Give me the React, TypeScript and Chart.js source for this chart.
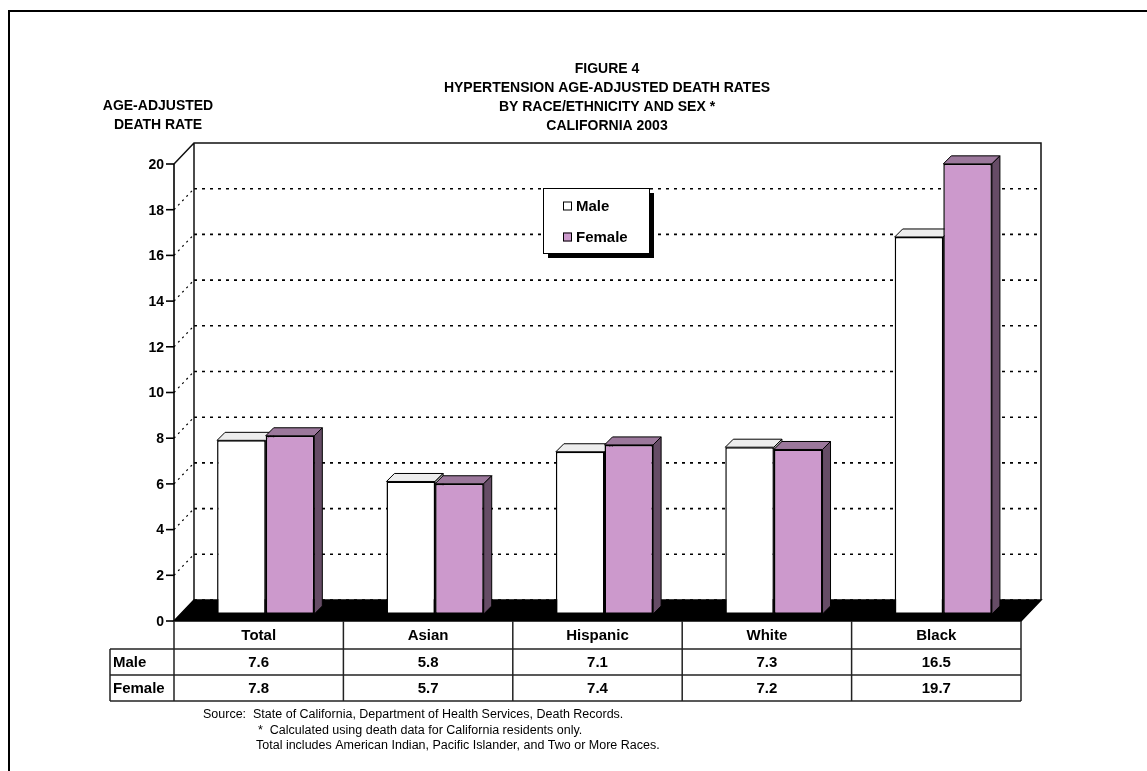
import { useEffect, useRef } from "react";
import { Chart, registerables } from "chart.js";

Chart.register(...registerables);

// ---- data ----
const categories = ["Total", "Asian", "Hispanic", "White", "Black"];
const maleRates = [7.6, 5.8, 7.1, 7.3, 16.5];
const femaleRates = [7.8, 5.7, 7.4, 7.2, 19.7];
const seriesNames = ["Male", "Female"];
const yTicks = [0, 2, 4, 6, 8, 10, 12, 14, 16, 18, 20];
const titleLines = [
  "FIGURE 4",
  "HYPERTENSION AGE-ADJUSTED DEATH RATES",
  "BY RACE/ETHNICITY AND SEX *",
  "CALIFORNIA 2003",
];
const yTitleLines = ["AGE-ADJUSTED", "DEATH RATE"];
const footnotes = [
  "Source:  State of California, Department of Health Services, Death Records.",
  "*  Calculated using death data for California residents only.",
  "Total includes American Indian, Pacific Islander, and Two or More Races.",
];

// ---- layout & style ----
const W = 1147;
const H = 771;
const PLOT = { left: 181, right: 1028, top: 157, bottom: 614 }; // plane the bars stand in
const FRONT = { dx: -7, dy: 7 }; // front plane relative to bar plane
const WALL_DEPTH = { dx: 20, dy: 21 }; // front plane -> back wall
const BAR_DEPTH = 8;
const FACE = [
  { front: "#FFFFFF", top: "#EDEDED", side: "#BDBDBD" },
  { front: "#CC99CC", top: "#9C789C", side: "#664C66" },
];
const FONT = '"Liberation Sans", Arial, Helvetica, sans-serif';
const f = (size: number, bold = true) => `${bold ? "bold " : ""}${size}px ${FONT}`;

function line(ctx: CanvasRenderingContext2D, x1: number, y1: number, x2: number, y2: number) {
  ctx.beginPath();
  ctx.moveTo(x1, y1);
  ctx.lineTo(x2, y2);
  ctx.stroke();
}

function poly(ctx: CanvasRenderingContext2D, pts: number[][], fill: string) {
  ctx.beginPath();
  ctx.moveTo(pts[0][0], pts[0][1]);
  for (let i = 1; i < pts.length; i++) ctx.lineTo(pts[i][0], pts[i][1]);
  ctx.closePath();
  ctx.fillStyle = fill;
  ctx.fill();
  ctx.stroke();
}

const scene3d = {
  id: "scene3d",
  beforeDraw(chart: any) {
    const { ctx } = chart;
    ctx.save();
    ctx.fillStyle = "#FFFFFF";
    ctx.fillRect(0, 0, chart.width, chart.height);
    ctx.restore();
  },
  beforeDatasetsDraw(chart: any) {
    const { ctx } = chart;
    const xs = chart.scales.x;
    const ys = chart.scales.y;
    const top = yTicks[yTicks.length - 1];
    const fl = xs.left + FRONT.dx;
    const fr = xs.right + FRONT.dx;
    const fy = (v: number) => ys.getPixelForValue(v) + FRONT.dy;
    const bl = fl + WALL_DEPTH.dx;
    const br = fr + WALL_DEPTH.dx;
    const by = (v: number) => fy(v) - WALL_DEPTH.dy;

    ctx.save();
    // back wall dotted grid
    ctx.strokeStyle = "#000";
    ctx.lineWidth = 1.6;
    ctx.setLineDash([3, 5]);
    yTicks.forEach((v) => {
      if (v === top) return;
      line(ctx, bl, by(v), br, by(v));
    });
    // side wall dotted diagonals
    ctx.setLineDash([2, 4]);
    ctx.lineWidth = 1.2;
    yTicks.forEach((v) => {
      if (v === top || v === 0) return;
      line(ctx, fl, fy(v), bl, by(v));
    });
    ctx.setLineDash([]);

    // wall frame
    ctx.lineWidth = 1.5;
    ctx.strokeStyle = "#111";
    ctx.beginPath();
    ctx.moveTo(fl, fy(top));
    ctx.lineTo(bl, by(top));
    ctx.lineTo(br, by(top));
    ctx.lineTo(br, by(0));
    ctx.moveTo(bl, by(top));
    ctx.lineTo(bl, by(0));
    ctx.stroke();

    // floor
    ctx.strokeStyle = "#000";
    poly(ctx, [[fl, fy(0)], [fr, fy(0)], [br, by(0)], [bl, by(0)]], "#000");

    // front value axis
    ctx.lineWidth = 1.6;
    line(ctx, fl, fy(top), fl, fy(0));
    ctx.font = f(14);
    ctx.fillStyle = "#000";
    ctx.textAlign = "right";
    ctx.textBaseline = "middle";
    yTicks.forEach((v) => {
      line(ctx, fl - 8, fy(v), fl, fy(v));
      ctx.fillText(String(v), fl - 10, fy(v) + 1);
    });

    // bars, category by category, each followed by its top and side faces
    const metas = [chart.getDatasetMeta(0), chart.getDatasetMeta(1)];
    for (let i = 0; i < categories.length; i++) {
      metas.forEach((meta, d) => {
        const el = meta.data[i];
        if (!el) return;
        el.draw(ctx, chart.chartArea);
        const { x, y, base, width } = el;
        const l = x - width / 2;
        const r = x + width / 2;
        const k = BAR_DEPTH;
        ctx.strokeStyle = "#000";
        ctx.lineWidth = 1;
        poly(ctx, [[l, y], [l + k, y - k], [r + k, y - k], [r, y]], FACE[d].top);
        poly(ctx, [[r, y], [r + k, y - k], [r + k, base - k], [r, base]], FACE[d].side);
      });
    }
    ctx.restore();
    return false;
  },
  afterDraw(chart: any) {
    const { ctx } = chart;
    const xs = chart.scales.x;
    const ys = chart.scales.y;
    const fl = xs.left + FRONT.dx;
    const fr = xs.right + FRONT.dx;
    const step = (xs.right - xs.left) / categories.length;
    const y0 = ys.getPixelForValue(0) + FRONT.dy;

    ctx.save();
    // data table
    const rows = [y0, y0 + 28, y0 + 54, y0 + 80];
    const labelLeft = 110;
    ctx.strokeStyle = "#222";
    ctx.lineWidth = 1.5;
    for (let r = 1; r < rows.length; r++) line(ctx, labelLeft, rows[r], fr, rows[r]);
    line(ctx, labelLeft, rows[1], labelLeft, rows[3]);
    for (let c = 0; c <= categories.length; c++) {
      const x = fl + c * step;
      line(ctx, x, rows[0], x, rows[3]);
    }
    ctx.fillStyle = "#000";
    ctx.font = f(15);
    ctx.textBaseline = "middle";
    ctx.textAlign = "center";
    const series = [maleRates, femaleRates];
    categories.forEach((cat, i) => {
      const cx = xs.getPixelForValue(i) + FRONT.dx;
      ctx.fillText(cat, cx, (rows[0] + rows[1]) / 2 + 1);
      series.forEach((vals, s) => {
        ctx.fillText(vals[i].toFixed(1), cx, (rows[s + 1] + rows[s + 2]) / 2 + 1);
      });
    });
    ctx.textAlign = "left";
    seriesNames.forEach((name, s) => {
      ctx.fillText(name, labelLeft + 3, (rows[s + 1] + rows[s + 2]) / 2 + 1);
    });

    // legend with drop shadow
    const lg = { x: 543, y: 188, w: 106, h: 65 };
    ctx.fillStyle = "#000";
    ctx.fillRect(lg.x + 5, lg.y + 5, lg.w, lg.h);
    ctx.fillStyle = "#FFF";
    ctx.fillRect(lg.x, lg.y, lg.w, lg.h);
    ctx.lineWidth = 1;
    ctx.strokeStyle = "#000";
    ctx.strokeRect(lg.x + 0.5, lg.y + 0.5, lg.w, lg.h);
    ctx.font = f(15);
    ctx.textAlign = "left";
    ctx.textBaseline = "middle";
    seriesNames.forEach((name, s) => {
      const cy = lg.y + 18 + s * 31;
      ctx.fillStyle = FACE[s].front;
      ctx.fillRect(lg.x + 20, cy - 4.5, 9, 9);
      ctx.strokeRect(lg.x + 20.5, cy - 4, 8, 8);
      ctx.fillStyle = "#000";
      ctx.fillText(name, lg.x + 33, cy + 1);
    });

    // titles
    ctx.textAlign = "center";
    ctx.font = f(14);
    titleLines.forEach((t, i) => ctx.fillText(t, 607, 69 + i * 19));
    yTitleLines.forEach((t, i) => ctx.fillText(t, 158, 106 + i * 19));

    // footnotes
    ctx.textAlign = "left";
    ctx.font = f(12.5, false);
    ctx.fillText(footnotes[0], 203, 715);
    ctx.fillText(footnotes[1], 258, 731);
    ctx.fillText(footnotes[2], 256, 746);

    // outer frame
    ctx.lineWidth = 2;
    ctx.strokeStyle = "#000";
    ctx.strokeRect(9, 11, W + 20, H + 20);
    ctx.restore();
  },
};

export default function App() {
  const ref = useRef<HTMLCanvasElement | null>(null);

  useEffect(() => {
    if (!ref.current) return;
    const chart = new Chart(ref.current, {
      type: "bar",
      data: {
        labels: categories,
        datasets: seriesNames.map((name, s) => ({
          label: name,
          data: s === 0 ? maleRates : femaleRates,
          backgroundColor: FACE[s].front,
          borderColor: "#000",
          borderWidth: 1.5,
          borderSkipped: false,
          categoryPercentage: 0.574,
          barPercentage: 1,
        })),
      },
      options: {
        responsive: false,
        animation: false,
        devicePixelRatio: 1,
        events: [],
        layout: {
          padding: { left: PLOT.left, right: W - PLOT.right, top: PLOT.top, bottom: H - PLOT.bottom },
        },
        scales: {
          x: { display: false, offset: true },
          y: { display: false, min: 0, max: 20 },
        },
        plugins: {
          legend: { display: false },
          title: { display: false },
          tooltip: { enabled: false },
        },
      },
      plugins: [scene3d],
    });
    return () => chart.destroy();
  }, []);

  return (
    <div style={{ position: "fixed", left: 0, top: 0, width: W, height: H, background: "#fff" }}>
      <canvas ref={ref} width={W} height={H} style={{ display: "block" }} />
    </div>
  );
}
